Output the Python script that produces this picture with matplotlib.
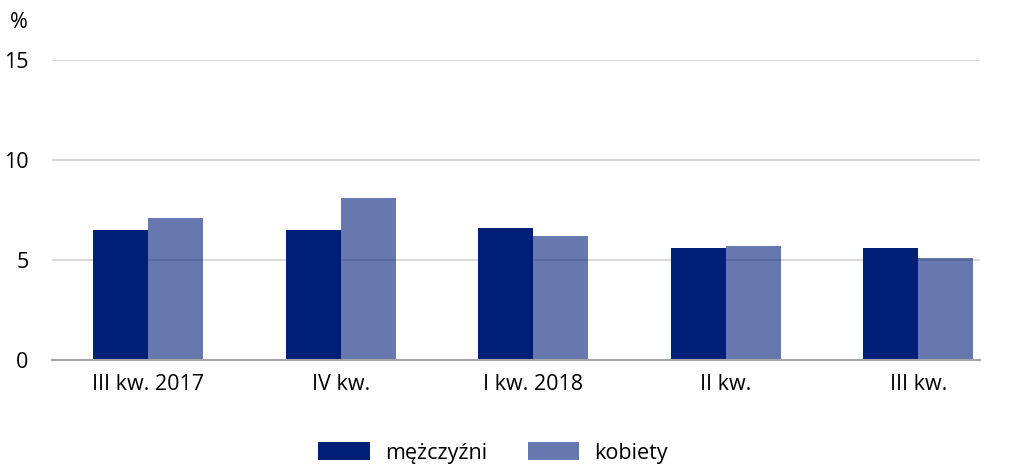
import numpy as np
import matplotlib
matplotlib.use("Agg")
import matplotlib.pyplot as plt

plt.rcParams['font.family'] = ['Open Sans', 'DejaVu Sans']

# data
categories = ["III kw. 2017", "IV kw.", "I kw. 2018", "II kw.", "III kw."]
men = [6.5, 6.5, 6.6, 5.6, 5.6]
women = [7.1, 8.1, 6.2, 5.7, 5.1]
series_names = ["mężczyźni", "kobiety"]

navy = "#001f77"
fs = 15.5

fig = plt.figure(figsize=(10.10, 4.68), dpi=100)
ax = fig.add_axes([52 / 1010, 1 - 360 / 468, 928 / 1010, 300 / 468])

x = np.arange(len(categories))
w = 0.286
ax.bar(x - w / 2, men, w, color=navy, zorder=2, label=series_names[0])
ax.bar(x + w / 2, women, w, color=navy, alpha=0.6, zorder=2, label=series_names[1])

ax.set_ylim(0, 15)
ax.set_yticks([0, 5, 10, 15])
ax.set_xlim(-0.5, 4.32)
ax.set_xticks(x)
ax.set_xticklabels(categories)

ax.grid(axis='y', color='#d9d9d9', linewidth=1.5, zorder=1)
ax.set_axisbelow(True)
for s in ['top', 'right', 'left']:
    ax.spines[s].set_visible(False)
ax.spines['bottom'].set_color('#a6a6a6')
ax.spines['bottom'].set_linewidth(1.5)
ax.spines['bottom'].set_zorder(5)

ax.tick_params(axis='both', length=0, labelsize=fs, colors='black')
ax.tick_params(axis='y', pad=17)
ax.tick_params(axis='x', pad=10)

fig.text(28 / 1010, 1 - 22 / 468, "%", ha='right', va='center', fontsize=fs)

fig.legend(loc='center', bbox_to_anchor=(493 / 1010, 1 - 453 / 468), ncol=2,
           frameon=False, fontsize=fs, handlelength=2.4, handleheight=0.9,
           handletextpad=0.7, columnspacing=1.9)

fig.savefig("out.png", dpi=100)
